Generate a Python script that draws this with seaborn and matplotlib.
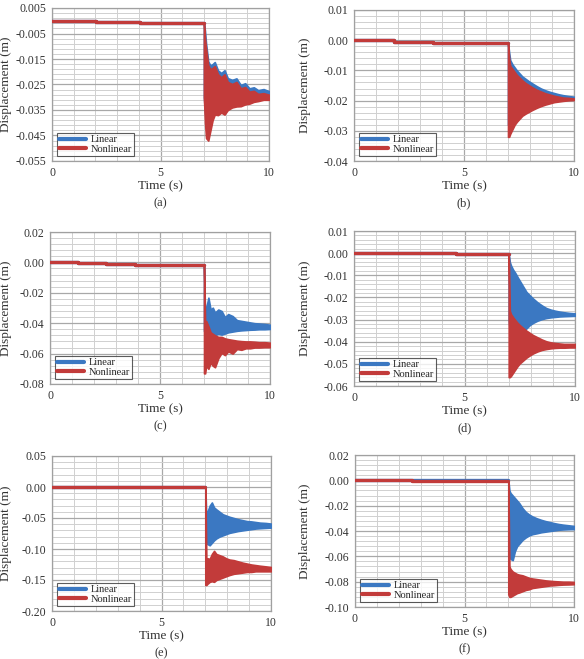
import numpy as np
import seaborn as sns
import matplotlib
matplotlib.use("Agg")
import matplotlib.pyplot as plt
from matplotlib.ticker import AutoMinorLocator, MultipleLocator, FormatStrFormatter

# sample times after the step load (envelope of the dense oscillation)
T_POST = [7.0, 7.05, 7.1, 7.2, 7.3, 7.4, 7.5, 7.65, 7.8, 7.95,
          8.1, 8.3, 8.5, 8.7, 8.9, 9.1, 9.3, 9.5, 9.75, 10.0]

# ---- (a)
A_PRE_T = [0, 2.05, 4.05]
A_PRE_LIN = [0.0, -0.0004, -0.0007]
A_PRE_NL = [0.0, -0.0004, -0.0007]
A_LIN_HI = [-0.0007, -0.004, -0.009, -0.016, -0.0175, -0.017, -0.0162, -0.0195, -0.0205, -0.0194,
            -0.0225, -0.0232, -0.0226, -0.0252, -0.0245, -0.0265, -0.0261, -0.0272, -0.0268, -0.0276]
A_LIN_LO = [-0.030, -0.036, -0.040, -0.041, -0.037, -0.034, -0.033, -0.034, -0.0325, -0.032,
            -0.0325, -0.031, -0.030, -0.0305, -0.0295, -0.0295, -0.029, -0.0292, -0.0288, -0.029]
A_NL_HI = [-0.0007, -0.007, -0.011, -0.0175, -0.019, -0.0185, -0.0178, -0.021, -0.0222, -0.021,
           -0.024, -0.0248, -0.024, -0.0265, -0.026, -0.0278, -0.0275, -0.0287, -0.0284, -0.029]
A_NL_LO = [-0.030, -0.040, -0.046, -0.047, -0.043, -0.039, -0.0368, -0.037, -0.036, -0.0368,
           -0.035, -0.034, -0.0336, -0.0335, -0.0328, -0.0325, -0.0318, -0.0315, -0.031, -0.031]

# ---- (b)
B_PRE_T = [0, 1.8, 3.6]
B_PRE_LIN = [0.0, -0.0005, -0.0008]
B_PRE_NL = [0.0, -0.0005, -0.0008]
B_LIN_HI = [-0.0008, -0.004, -0.0066, -0.008, -0.009, -0.0100, -0.0108, -0.0120, -0.0128, -0.0136,
            -0.0143, -0.0152, -0.016, -0.0166, -0.0171, -0.0175, -0.0179, -0.0182, -0.0185, -0.0187]
B_LIN_LO = [-0.028, -0.028, -0.027, -0.026, -0.025, -0.024, -0.0235, -0.0228, -0.0222, -0.0217,
            -0.0212, -0.0207, -0.0203, -0.020, -0.0198, -0.0196, -0.0194, -0.0193, -0.0192, -0.0191]
B_NL_HI = [-0.0008, -0.006, -0.0085, -0.0095, -0.0105, -0.0115, -0.0122, -0.0133, -0.0142, -0.0149,
           -0.0156, -0.0164, -0.017, -0.0176, -0.018, -0.0184, -0.0187, -0.019, -0.0191, -0.0193]
B_NL_LO = [-0.032, -0.032, -0.031, -0.0295, -0.028, -0.027, -0.0262, -0.025, -0.0243, -0.0237,
           -0.0231, -0.0224, -0.0218, -0.0213, -0.0209, -0.0205, -0.0203, -0.0201, -0.0199, -0.0198]

# ---- (c)
C_PRE_T = [0, 1.25, 2.55, 3.85]
C_PRE_LIN = [0.0, -0.0005, -0.001, -0.0018]
C_PRE_NL = [0.0, -0.0005, -0.001, -0.0018]
C_LIN_HI = [-0.0018, -0.035, -0.030, -0.0232, -0.031, -0.0298, -0.033, -0.031, -0.032, -0.036,
            -0.034, -0.0353, -0.038, -0.0385, -0.039, -0.0395, -0.040, -0.0402, -0.0405, -0.041]
C_LIN_LO = [-0.045, -0.047, -0.048, -0.048, -0.0485, -0.048, -0.0478, -0.047, -0.0475, -0.0468,
            -0.046, -0.0455, -0.045, -0.0447, -0.0445, -0.0443, -0.0442, -0.044, -0.044, -0.0438]
C_NL_HI = [-0.0018, -0.040, -0.0386, -0.042, -0.046, -0.047, -0.048, -0.049, -0.049, -0.050,
           -0.0505, -0.051, -0.0515, -0.0518, -0.052, -0.052, -0.0522, -0.0525, -0.0525, -0.0528]
C_NL_LO = [-0.073, -0.073, -0.068, -0.070, -0.066, -0.068, -0.069, -0.063, -0.0595, -0.061,
           -0.0585, -0.060, -0.057, -0.0575, -0.0565, -0.0565, -0.056, -0.056, -0.0558, -0.0558]

# ---- (d)
D_PRE_T = [0, 4.6]
D_PRE_LIN = [0.0002, -0.0002]
D_PRE_NL = [0.0002, -0.0002]
D_LIN_HI = [-0.0002, -0.004, -0.0055, -0.0075, -0.009, -0.0108, -0.0125, -0.015, -0.0175, -0.019,
            -0.0205, -0.0222, -0.0236, -0.0248, -0.0255, -0.026, -0.0264, -0.0267, -0.027, -0.0272]
D_LIN_LO = [-0.030, -0.036, -0.038, -0.038, -0.0375, -0.037, -0.0365, -0.0355, -0.034, -0.0325,
            -0.0315, -0.0305, -0.0298, -0.0293, -0.029, -0.0288, -0.0286, -0.0285, -0.0284, -0.0283]
D_NL_HI = [-0.0002, -0.026, -0.0275, -0.029, -0.0303, -0.0315, -0.0325, -0.0338, -0.035, -0.036,
           -0.037, -0.038, -0.039, -0.0398, -0.0403, -0.0406, -0.0408, -0.041, -0.041, -0.041]
D_NL_LO = [-0.056, -0.056, -0.0555, -0.054, -0.0525, -0.051, -0.0498, -0.0485, -0.0472, -0.0462,
           -0.0453, -0.0444, -0.0437, -0.0433, -0.043, -0.0428, -0.0427, -0.0427, -0.0426, -0.0426]

# ---- (e)
E_PRE_T = [0]
E_PRE_LIN = [0.0]
E_PRE_NL = [0.0]
E_LIN_HI = [0.0, -0.05, -0.040, -0.030, -0.025, -0.033, -0.036, -0.040, -0.044, -0.046,
            -0.048, -0.050, -0.052, -0.0535, -0.055, -0.0555, -0.0565, -0.0575, -0.058, -0.059]
E_LIN_LO = [-0.090, -0.090, -0.092, -0.094, -0.090, -0.086, -0.083, -0.080, -0.078, -0.076,
            -0.074, -0.0725, -0.071, -0.070, -0.069, -0.068, -0.067, -0.0665, -0.066, -0.0655]
E_NL_HI = [0.0, -0.120, -0.115, -0.116, -0.108, -0.103, -0.108, -0.110, -0.112, -0.115,
           -0.117, -0.118, -0.120, -0.122, -0.1235, -0.125, -0.126, -0.127, -0.128, -0.129]
E_NL_LO = [-0.158, -0.158, -0.156, -0.153, -0.152, -0.153, -0.150, -0.148, -0.146, -0.144,
           -0.142, -0.140, -0.139, -0.138, -0.137, -0.137, -0.136, -0.136, -0.136, -0.136]

# ---- (f)
F_PRE_T = [0, 2.6]
F_PRE_LIN = [0.0, 0.0006]
F_PRE_NL = [0.0, -0.0003]
F_LIN_HI = [0.0006, -0.008, -0.010, -0.012, -0.014, -0.016, -0.018, -0.022, -0.025, -0.027,
            -0.0285, -0.030, -0.0312, -0.0322, -0.033, -0.0338, -0.0345, -0.035, -0.0355, -0.036]
F_LIN_LO = [-0.060, -0.060, -0.062, -0.063, -0.056, -0.052, -0.050, -0.047, -0.045, -0.0435,
            -0.0425, -0.0418, -0.041, -0.0405, -0.040, -0.0395, -0.039, -0.0388, -0.0386, -0.0385]
F_NL_HI = [-0.0003, -0.068, -0.070, -0.072, -0.073, -0.074, -0.0745, -0.075, -0.076, -0.077,
           -0.0775, -0.078, -0.0785, -0.079, -0.0793, -0.0796, -0.0798, -0.080, -0.080, -0.0802]
F_NL_LO = [-0.090, -0.092, -0.092, -0.091, -0.090, -0.089, -0.0885, -0.0875, -0.0865, -0.086,
           -0.085, -0.0845, -0.084, -0.0835, -0.083, -0.0828, -0.0825, -0.0823, -0.0822, -0.082]

# axis ranges: (ymin, ymax, step, label format)
Y_AXES = {
    "a": (-0.055, 0.005, 0.01, "%.3f"),
    "b": (-0.04, 0.01, 0.01, "%.2f"),
    "c": (-0.08, 0.02, 0.02, "%.2f"),
    "d": (-0.06, 0.01, 0.01, "%.2f"),
    "e": (-0.20, 0.05, 0.05, "%.2f"),
    "f": (-0.10, 0.02, 0.02, "%.2f"),
}

PANELS = [
    ("a", A_PRE_T, A_PRE_LIN, A_PRE_NL, A_LIN_HI, A_LIN_LO, A_NL_HI, A_NL_LO),
    ("b", B_PRE_T, B_PRE_LIN, B_PRE_NL, B_LIN_HI, B_LIN_LO, B_NL_HI, B_NL_LO),
    ("c", C_PRE_T, C_PRE_LIN, C_PRE_NL, C_LIN_HI, C_LIN_LO, C_NL_HI, C_NL_LO),
    ("d", D_PRE_T, D_PRE_LIN, D_PRE_NL, D_LIN_HI, D_LIN_LO, D_NL_HI, D_NL_LO),
    ("e", E_PRE_T, E_PRE_LIN, E_PRE_NL, E_LIN_HI, E_LIN_LO, E_NL_HI, E_NL_LO),
    ("f", F_PRE_T, F_PRE_LIN, F_PRE_NL, F_LIN_HI, F_LIN_LO, F_NL_HI, F_NL_LO),
]

# axes boxes in pixels: left, top, right, bottom
BOXES = {
    "a": (52, 8, 269, 161), "b": (354, 10, 574, 161),
    "c": (50, 232, 270, 384), "d": (354, 231, 575, 386),
    "e": (52, 456, 271, 611), "f": (355, 455, 574, 607),
}
YLABEL_OFF = {"a": 40, "b": 43, "c": 38, "d": 43, "e": 40, "f": 44}

BLUE = "#3b78c2"
RED = "#c23b3a"

W, H = 584, 659
sns.set_style("white")
plt.rcParams["font.family"] = ["Liberation Serif", "DejaVu Serif"]
plt.rcParams["axes.unicode_minus"] = False

fig = plt.figure(figsize=(W / 100, H / 100), dpi=100)

for key, pre_t, pre_lin, pre_nl, lin_hi, lin_lo, nl_hi, nl_lo in PANELS:
    l, t, r, b = BOXES[key]
    ax = fig.add_axes([l / W, 1 - b / H, (r - l) / W, (b - t) / H])
    wpx, hpx = r - l, b - t

    t0 = T_POST[0]
    for pre_y, hi, lo, col, lab in [(pre_lin, lin_hi, lin_lo, BLUE, "Linear"),
                                    (pre_nl, nl_hi, nl_lo, RED, "Nonlinear")]:
        xs = list(pre_t) + [t0]
        ys = list(pre_y) + [pre_y[-1]]
        sns.lineplot(x=xs, y=ys, ax=ax, color=col, lw=2.4, drawstyle="steps-post",
                     label=lab, sort=False, zorder=3)
        ax.fill_between(T_POST, lo, hi, facecolor=col, edgecolor=col, lw=1.2, zorder=3)

    ymin, ymax, step, fmt = Y_AXES[key]
    ax.set_xlim(0, 10)
    ax.set_ylim(ymin, ymax)
    ax.set_xticks([0, 5, 10])
    ax.xaxis.set_minor_locator(MultipleLocator(1))
    yt = np.round(np.arange(ymin, ymax + step / 2, step), 6) + 0.0
    ax.set_yticks(yt)
    ax.yaxis.set_major_formatter(FormatStrFormatter(fmt))
    ax.yaxis.set_minor_locator(AutoMinorLocator(5))

    ax.grid(which="major", color="#a8a8a8", lw=0.9, zorder=0)
    ax.grid(which="minor", color="#d0d0d0", lw=0.7, zorder=0)
    ax.set_axisbelow(True)
    for s in ax.spines.values():
        s.set_color("#a0a0a0")
        s.set_linewidth(0.9)
    ax.tick_params(which="both", length=0, labelsize=8.5, labelcolor="#333333", pad=4)

    ax.set_xlabel("Time (s)", fontsize=9.5, color="#333333")
    ax.set_ylabel("Displacement (m)", fontsize=9.5, color="#333333")
    ax.xaxis.set_label_coords(0.5, -19 / hpx)
    ax.yaxis.set_label_coords(-YLABEL_OFF[key] / wpx, 0.5)

    ax.annotate(f"({key})", xy=(0.5, 0), xycoords="axes fraction",
                xytext=(0, -42), textcoords="offset pixels",
                ha="center", va="center", fontsize=9, color="#333333")

    leg = ax.legend(loc="lower left", fontsize=7.5, frameon=True, fancybox=False,
                    borderaxespad=0.5, borderpad=0.2, labelspacing=0.0,
                    handlelength=2.6, handletextpad=0.4)
    leg.get_frame().set_edgecolor("#333333")
    leg.get_frame().set_linewidth(0.8)
    for h in leg.get_lines():
        h.set_linewidth(3)

fig.savefig("out.png", dpi=100)
